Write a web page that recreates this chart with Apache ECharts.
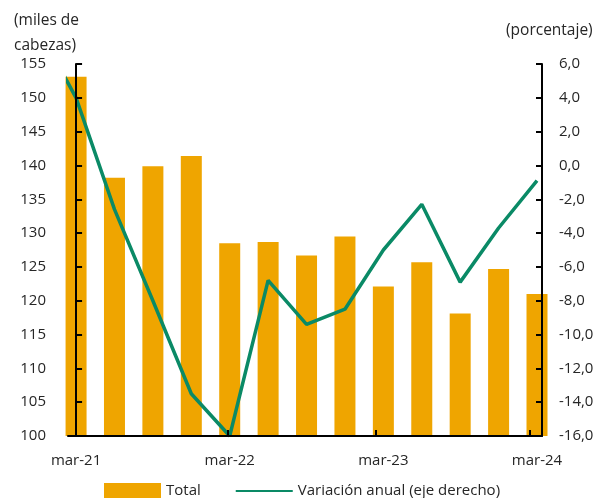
<!DOCTYPE html>
<html>
<head>
<meta charset="utf-8">
<script src="https://cdn.jsdelivr.net/npm/echarts@6/dist/echarts.min.js"></script>
<style>
html, body { margin: 0; padding: 0; background: #fff; }
#chart { width: 600px; height: 498px; }
</style>
</head>
<body>
<div id="chart"></div>
<script>
// trimestres, mar-21 .. mar-24
const periods = ['mar-21', 'jun-21', 'sep-21', 'dic-21', 'mar-22', 'jun-22', 'sep-22', 'dic-22',
    'mar-23', 'jun-23', 'sep-23', 'dic-23', 'mar-24'];
// miles de cabezas
const total = [153.1, 138.2, 139.9, 141.4, 128.5, 128.7, 126.7, 129.5, 122.1, 125.7, 118.1, 124.7, 121.0];
// variación anual (%), eje derecho
const variacion = [4.0, -2.6, -8.0, -13.5, -16.0, -6.8, -9.4, -8.5, -5.0, -2.3, -6.9, -3.7, -0.9];
// punto anterior (dic-20), queda fuera del área y solo se ve su tramo recortado
const leadIn = 8.2;
const labelTicks = [0, 4, 8, 12];

const color = {
    bar: '#EFA500',
    line: '#0A8A66',
    axis: '#000000',
    text: '#262626',
};
const font = 'Open Sans';
const comma = (v) => v.toFixed(1).replace('.', ',');

const chart = echarts.init(document.getElementById('chart'), null, { renderer: 'canvas' });

const barData = total.map((v, i) => [i, v]);
const lineData = [[-1, leadIn]].concat(variacion.map((v, i) => [i, v]));

chart.setOption({
    animation: false,
    textStyle: { fontFamily: font, color: color.text },
    title: [
        {
            text: '(miles de\ncabezas)',
            left: 9, top: 3,
            textStyle: { fontFamily: font, fontSize: 15.5, fontWeight: 'normal', color: color.text, lineHeight: 25 },
        },
        {
            text: '(porcentaje)',
            left: 501, top: 18,
            textStyle: { fontFamily: font, fontSize: 15.5, fontWeight: 'normal', color: color.text },
        },
    ],
    legend: {
        left: 99, top: 478,
        itemWidth: 57, itemHeight: 16,
        itemGap: 34,
        textStyle: { fontFamily: font, fontSize: 15, color: color.text },
        data: [
            { name: 'Total', icon: 'rect' },
            { name: 'Variación anual (eje derecho)', itemStyle: { opacity: 0 } },
        ],
    },
    grid: { left: 68, right: 58, top: 64, bottom: 62, containLabel: false },
    xAxis: {
        type: 'value',
        min: -0.21, max: 12.13,
        z: 10,
        splitLine: { show: false },
        axisLine: { show: true, onZero: false, lineStyle: { color: color.axis, width: 2 } },
        axisTick: {
            show: true, inside: true, length: 6,
            customValues: [3.96, 7.81, 11.82],
            lineStyle: { color: color.axis, width: 2 },
        },
        axisLabel: {
            customValues: labelTicks,
            formatter: (v) => periods[Math.round(v)],
            fontFamily: font, fontSize: 15, color: color.text, margin: 17,
        },
    },
    yAxis: [
        {
            type: 'value',
            min: 100, max: 155, interval: 5,
            z: 10,
            splitLine: { show: false },
            axisLine: { show: true, lineStyle: { color: color.axis, width: 2 } },
            axisTick: { show: true, inside: true, length: 6, lineStyle: { color: color.axis, width: 2 } },
            axisLabel: { fontFamily: font, fontSize: 15, color: color.text, margin: 22 },
        },
        {
            type: 'value',
            min: -16, max: 6, interval: 2,
            z: 10,
            splitLine: { show: false },
            axisLine: { show: true, lineStyle: { color: color.axis, width: 2 } },
            axisTick: { show: true, inside: true, length: 6, lineStyle: { color: color.axis, width: 2 } },
            axisLabel: { fontFamily: font, fontSize: 15, color: color.text, margin: 17, formatter: comma },
        },
    ],
    series: [
        {
            name: 'Total',
            type: 'bar',
            yAxisIndex: 0,
            barWidth: 21,
            clip: true,
            itemStyle: { color: color.bar },
            data: barData,
            z: 2,
        },
        {
            name: 'Variación anual (eje derecho)',
            type: 'line',
            yAxisIndex: 1,
            symbol: 'none',
            clip: true,
            lineStyle: { color: color.line, width: 3.5 },
            itemStyle: { color: color.line },
            data: lineData,
            z: 3,
        },
    ],
});
</script>
</body>
</html>
